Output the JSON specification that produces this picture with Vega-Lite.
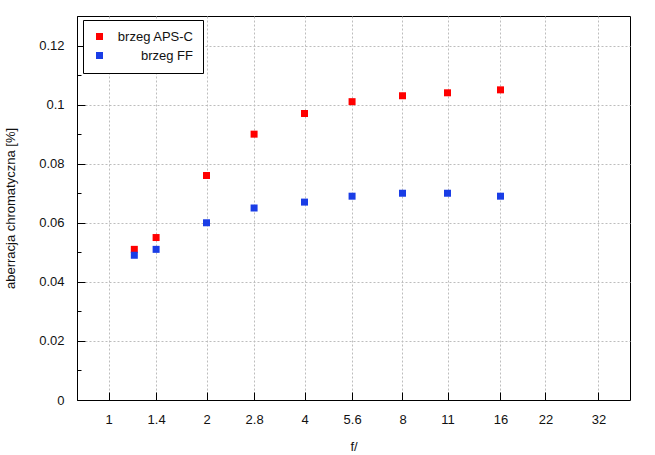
{
  "$schema": "https://vega.github.io/schema/vega-lite/v6.json",
  "width": 553,
  "height": 384,
  "autosize": "none",
  "padding": {"left": 77, "top": 16, "right": 25, "bottom": 55},
  "background": "white",
  "config": {
    "font": "Liberation Sans",
    "view": {"stroke": "black", "strokeWidth": 1},
    "axis": {
      "domainColor": "black",
      "domainWidth": 1,
      "tickColor": "black",
      "tickWidth": 1,
      "labelColor": "#111111",
      "labelFont": "Liberation Sans",
      "labelFontSize": 13,
      "titleFont": "Liberation Sans",
      "titleFontSize": 13,
      "titleFontWeight": "normal",
      "titleColor": "#111111",
      "gridColor": "#bdbdbd",
      "gridDash": [2, 2],
      "gridWidth": 1,
      "gridOpacity": 1
    }
  },
  "data": {
    "values": [
      {"f": 1.2, "ab": 0.051, "series": "brzeg APS-C"},
      {"f": 1.4, "ab": 0.055, "series": "brzeg APS-C"},
      {"f": 2, "ab": 0.076, "series": "brzeg APS-C"},
      {"f": 2.8, "ab": 0.090, "series": "brzeg APS-C"},
      {"f": 4, "ab": 0.097, "series": "brzeg APS-C"},
      {"f": 5.6, "ab": 0.101, "series": "brzeg APS-C"},
      {"f": 8, "ab": 0.103, "series": "brzeg APS-C"},
      {"f": 11, "ab": 0.104, "series": "brzeg APS-C"},
      {"f": 16, "ab": 0.105, "series": "brzeg APS-C"},
      {"f": 1.2, "ab": 0.049, "series": "brzeg FF"},
      {"f": 1.4, "ab": 0.051, "series": "brzeg FF"},
      {"f": 2, "ab": 0.060, "series": "brzeg FF"},
      {"f": 2.8, "ab": 0.065, "series": "brzeg FF"},
      {"f": 4, "ab": 0.067, "series": "brzeg FF"},
      {"f": 5.6, "ab": 0.069, "series": "brzeg FF"},
      {"f": 8, "ab": 0.070, "series": "brzeg FF"},
      {"f": 11, "ab": 0.070, "series": "brzeg FF"},
      {"f": 16, "ab": 0.069, "series": "brzeg FF"}
    ]
  },
  "resolve": {"axis": {"y": "independent"}},
  "layer": [
    {
      "mark": {"type": "point", "shape": "square", "filled": true, "size": 49, "opacity": 1, "strokeWidth": 0},
      "encoding": {
        "x": {
          "field": "f", "type": "quantitative",
          "scale": {"type": "log", "domain": [0.8, 40], "nice": false, "zero": false},
          "axis": {
            "values": [1, 1.4, 2, 2.8, 4, 5.6, 8, 11, 16, 22, 32],
            "format": "~g",
            "title": "f/",
            "tickSize": -8,
            "labelPadding": 21,
            "titlePadding": 14,
            "labelFlush": false,
            "labelOverlap": false
          }
        },
        "y": {
          "field": "ab", "type": "quantitative",
          "scale": {"domain": [0, 0.13], "nice": false},
          "axis": {
            "orient": "left",
            "values": [0, 0.02, 0.04, 0.06, 0.08, 0.1, 0.12],
            "format": "~g",
            "title": "aberracja chromatyczna [%]",
            "tickSize": -8,
            "labelPadding": 21,
            "titlePadding": 21,
            "labelFlush": false,
            "labelOverlap": false
          }
        },
        "color": {
          "field": "series", "type": "nominal",
          "scale": {"domain": ["brzeg APS-C", "brzeg FF"], "range": ["#ff0000", "#1a3de6"]},
          "legend": {
            "title": null,
            "orient": "none",
            "legendX": 6,
            "legendY": 4,
            "strokeColor": "black",
            "fillColor": "white",
            "padding": 10,
            "rowPadding": 5,
            "symbolType": "square",
            "symbolSize": 49,
            "symbolStrokeWidth": 0,
            "labelAlign": "right",
            "labelOffset": 87,
            "labelFont": "Liberation Sans",
            "labelFontSize": 13,
            "labelColor": "#111111"
          }
        }
      }
    },
    {
      "mark": {"type": "point", "opacity": 0},
      "encoding": {
        "x": {
          "field": "f", "type": "quantitative",
          "scale": {"type": "log", "domain": [0.8, 40], "nice": false, "zero": false},
          "axis": {
            "values": [1, 1.4, 2, 2.8, 4, 5.6, 8, 11, 16, 22, 32],
            "format": "~g",
            "title": "f/",
            "tickSize": -8,
            "labelPadding": 21,
            "titlePadding": 14,
            "labelFlush": false,
            "labelOverlap": false
          }
        },
        "y": {
          "field": "ab", "type": "quantitative",
          "scale": {"domain": [0, 0.13], "nice": false},
          "axis": {
            "orient": "left",
            "values": [0.01, 0.03, 0.05, 0.07, 0.09, 0.11],
            "title": null,
            "labels": false,
            "domain": false,
            "grid": false,
            "tickSize": -4
          }
        }
      }
    }
  ]
}
